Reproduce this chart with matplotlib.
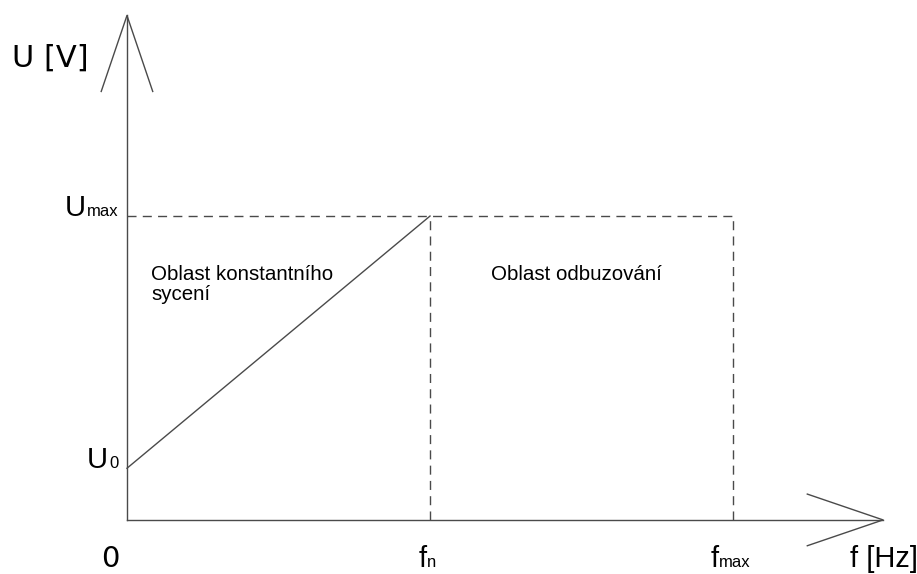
import matplotlib
matplotlib.use("Agg")
import matplotlib.pyplot as plt

# schematic values (f in multiples of f_n, U in multiples of U_max)
f_ticks = [0, 1, 2]
f_names = ["0", "f", "f"]
f_subs = ["", "n", "max"]
u_levels = [0.17, 1.0]
u_names = ["U", "U"]
u_subs = ["0", "max"]
ramp_f = [0, 1]
ramp_u = [0.17, 1.0]
regions = ["Oblast konstantního\nsycení", "Oblast odbuzování"]
region_pos = [(0.08, 0.84), (1.2, 0.84)]

f_end, u_end = 2.495, 1.66
head_len, head_w = 0.25, 0.085

fig = plt.figure(figsize=(9.17, 5.74), dpi=100)
ax = fig.add_axes([0, 0, 1, 1])
ax.set_xlim(-0.419, 2.607)
ax.set_ylim(-0.178, 1.711)
ax.axis("off")

line_col = "#4a4a4a"
lw = 1.0
dash = (0, (6.5, 4.5))

# axes with open arrow heads
ax.plot([0, f_end], [0, 0], color=line_col, lw=lw)
ax.plot([0, 0], [0, u_end], color=line_col, lw=lw)
ax.plot([f_end - head_len, f_end, f_end - head_len], [head_w, 0, -head_w], color=line_col, lw=lw)
ax.plot([-head_w, 0, head_w], [u_end - head_len, u_end, u_end - head_len], color=line_col, lw=lw)

# U_max limit and the vertical guides
ax.plot([0, f_ticks[2]], [u_levels[1]] * 2, color=line_col, lw=lw, ls=dash)
for f in f_ticks[1:]:
    ax.plot([f, f], [0, u_levels[1]], color=line_col, lw=lw, ls=dash)

ax.plot(ramp_f, ramp_u, color=line_col, lw=lw)

big = 21
small = 12
main_font = "Liberation Sans"
base_y = -0.155

fig.canvas.draw()
r = fig.canvas.get_renderer()


def sub_label(x, y, name, sub, ha):
    t = ax.text(x, y, name, fontsize=big, family=main_font, ha="left", va="baseline")
    s = ax.text(x, y, sub, fontsize=small, family=main_font, ha="left", va="baseline")
    wt = t.get_window_extent(r).width
    ws = s.get_window_extent(r).width if sub else 0
    inv = ax.transData.inverted()
    x0 = ax.transData.transform((x, y))[0]
    if ha == "right":
        start = x0 - wt - ws - 2
    else:
        start = x0 - (wt + ws) / 2
    t.set_x(inv.transform((start, 0))[0])
    s.set_x(inv.transform((start + wt + 1, 0))[0])


for u, n, s in zip(u_levels, u_names, u_subs):
    sub_label(-0.025, u, n, s, "right")

for f, n, s in zip(f_ticks, f_names, f_subs):
    if s:
        sub_label(f - 0.01, base_y, n, s, "center")
    else:
        ax.text(f - 0.055, base_y, n, fontsize=big, family="DejaVu Sans", ha="center", va="baseline")

ax.text(-0.38, 1.52, "U [V]", fontsize=22, family="DejaVu Sans", ha="left", va="center")
ax.text(2.386, base_y, "f [Hz]", fontsize=big, family=main_font, ha="left", va="baseline")

for txt, (x, y) in zip(regions, region_pos):
    ax.text(x, y, txt, fontsize=14.8, family=main_font, ha="left", va="top", linespacing=1.1)

fig.savefig("out.png", dpi=100)
